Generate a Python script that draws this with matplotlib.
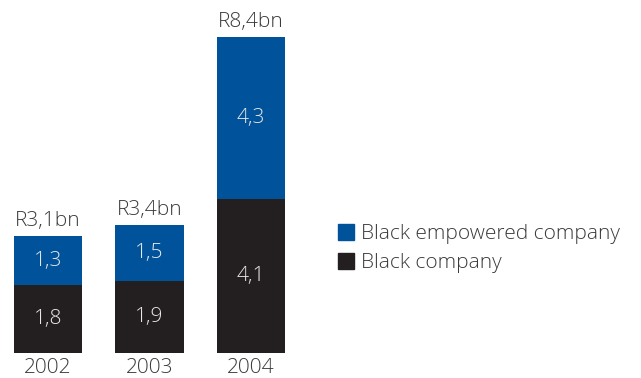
import matplotlib
matplotlib.use("Agg")
import matplotlib.pyplot as plt
from matplotlib.patches import Patch

years = ["2002", "2003", "2004"]
black_company = [1.8, 1.9, 4.1]
black_empowered = [1.3, 1.5, 4.3]
totals = ["R3,1bn", "R3,4bn", "R8,4bn"]
black_labels = ["1,8", "1,9", "4,1"]
empowered_labels = ["1,3", "1,5", "4,3"]

BLUE = "#00529b"
DARK = "#231f20"
TEXT = "#3a3a3a"
INNER = "#e8e8e8"

plt.rcParams["font.family"] = ["Open Sans", "DejaVu Sans"]
plt.rcParams["font.weight"] = "light"

W, H = 641, 378
fig = plt.figure(figsize=(W / 100, H / 100), dpi=100)

# axes placed in pixel terms: 101.5 px per category, 37.6 px per unit
px_x, px_y = 101.5, 37.6
x0, x1 = -0.45, 2.5
y0, y1 = 0, 9
left = 48 + x0 * px_x
bottom = H - 352.7
ax = fig.add_axes([left / W, bottom / H, (x1 - x0) * px_x / W, (y1 - y0) * px_y / H])
ax.set_xlim(x0, x1)
ax.set_ylim(y0, y1)
ax.axis("off")

x = list(range(len(years)))
width = 0.67
ax.bar(x, black_company, width, color=DARK, label="Black company")
ax.bar(x, black_empowered, width, bottom=black_company, color=BLUE,
       label="Black empowered company")

fs = 15
for i in x:
    ax.text(i, black_company[i] / 2, black_labels[i], ha="center", va="center",
            color=INNER, fontsize=fs)
    ax.text(i, black_company[i] + black_empowered[i] / 2, empowered_labels[i],
            ha="center", va="center", color=INNER, fontsize=fs)
    top = black_company[i] + black_empowered[i]
    ax.annotate(totals[i], (i, top), xytext=(0, 7), textcoords="offset points",
                ha="center", va="baseline", color=TEXT, fontsize=fs)
    ax.annotate(years[i], (i, 0), xytext=(0, -14.8), textcoords="offset points",
                ha="center", va="baseline", color=TEXT, fontsize=fs)

handles = [Patch(color=BLUE), Patch(color=DARK)]
fig.legend(handles, ["Black empowered company", "Black company"],
           loc="upper left", bbox_to_anchor=(338 / W, 1 - 224 / H),
           frameon=False, fontsize=fs, handlelength=0.77, handleheight=0.77,
           handletextpad=0.35, labelspacing=0.43, borderpad=0, borderaxespad=0,
           labelcolor=TEXT)

fig.savefig("out.png", dpi=100)
